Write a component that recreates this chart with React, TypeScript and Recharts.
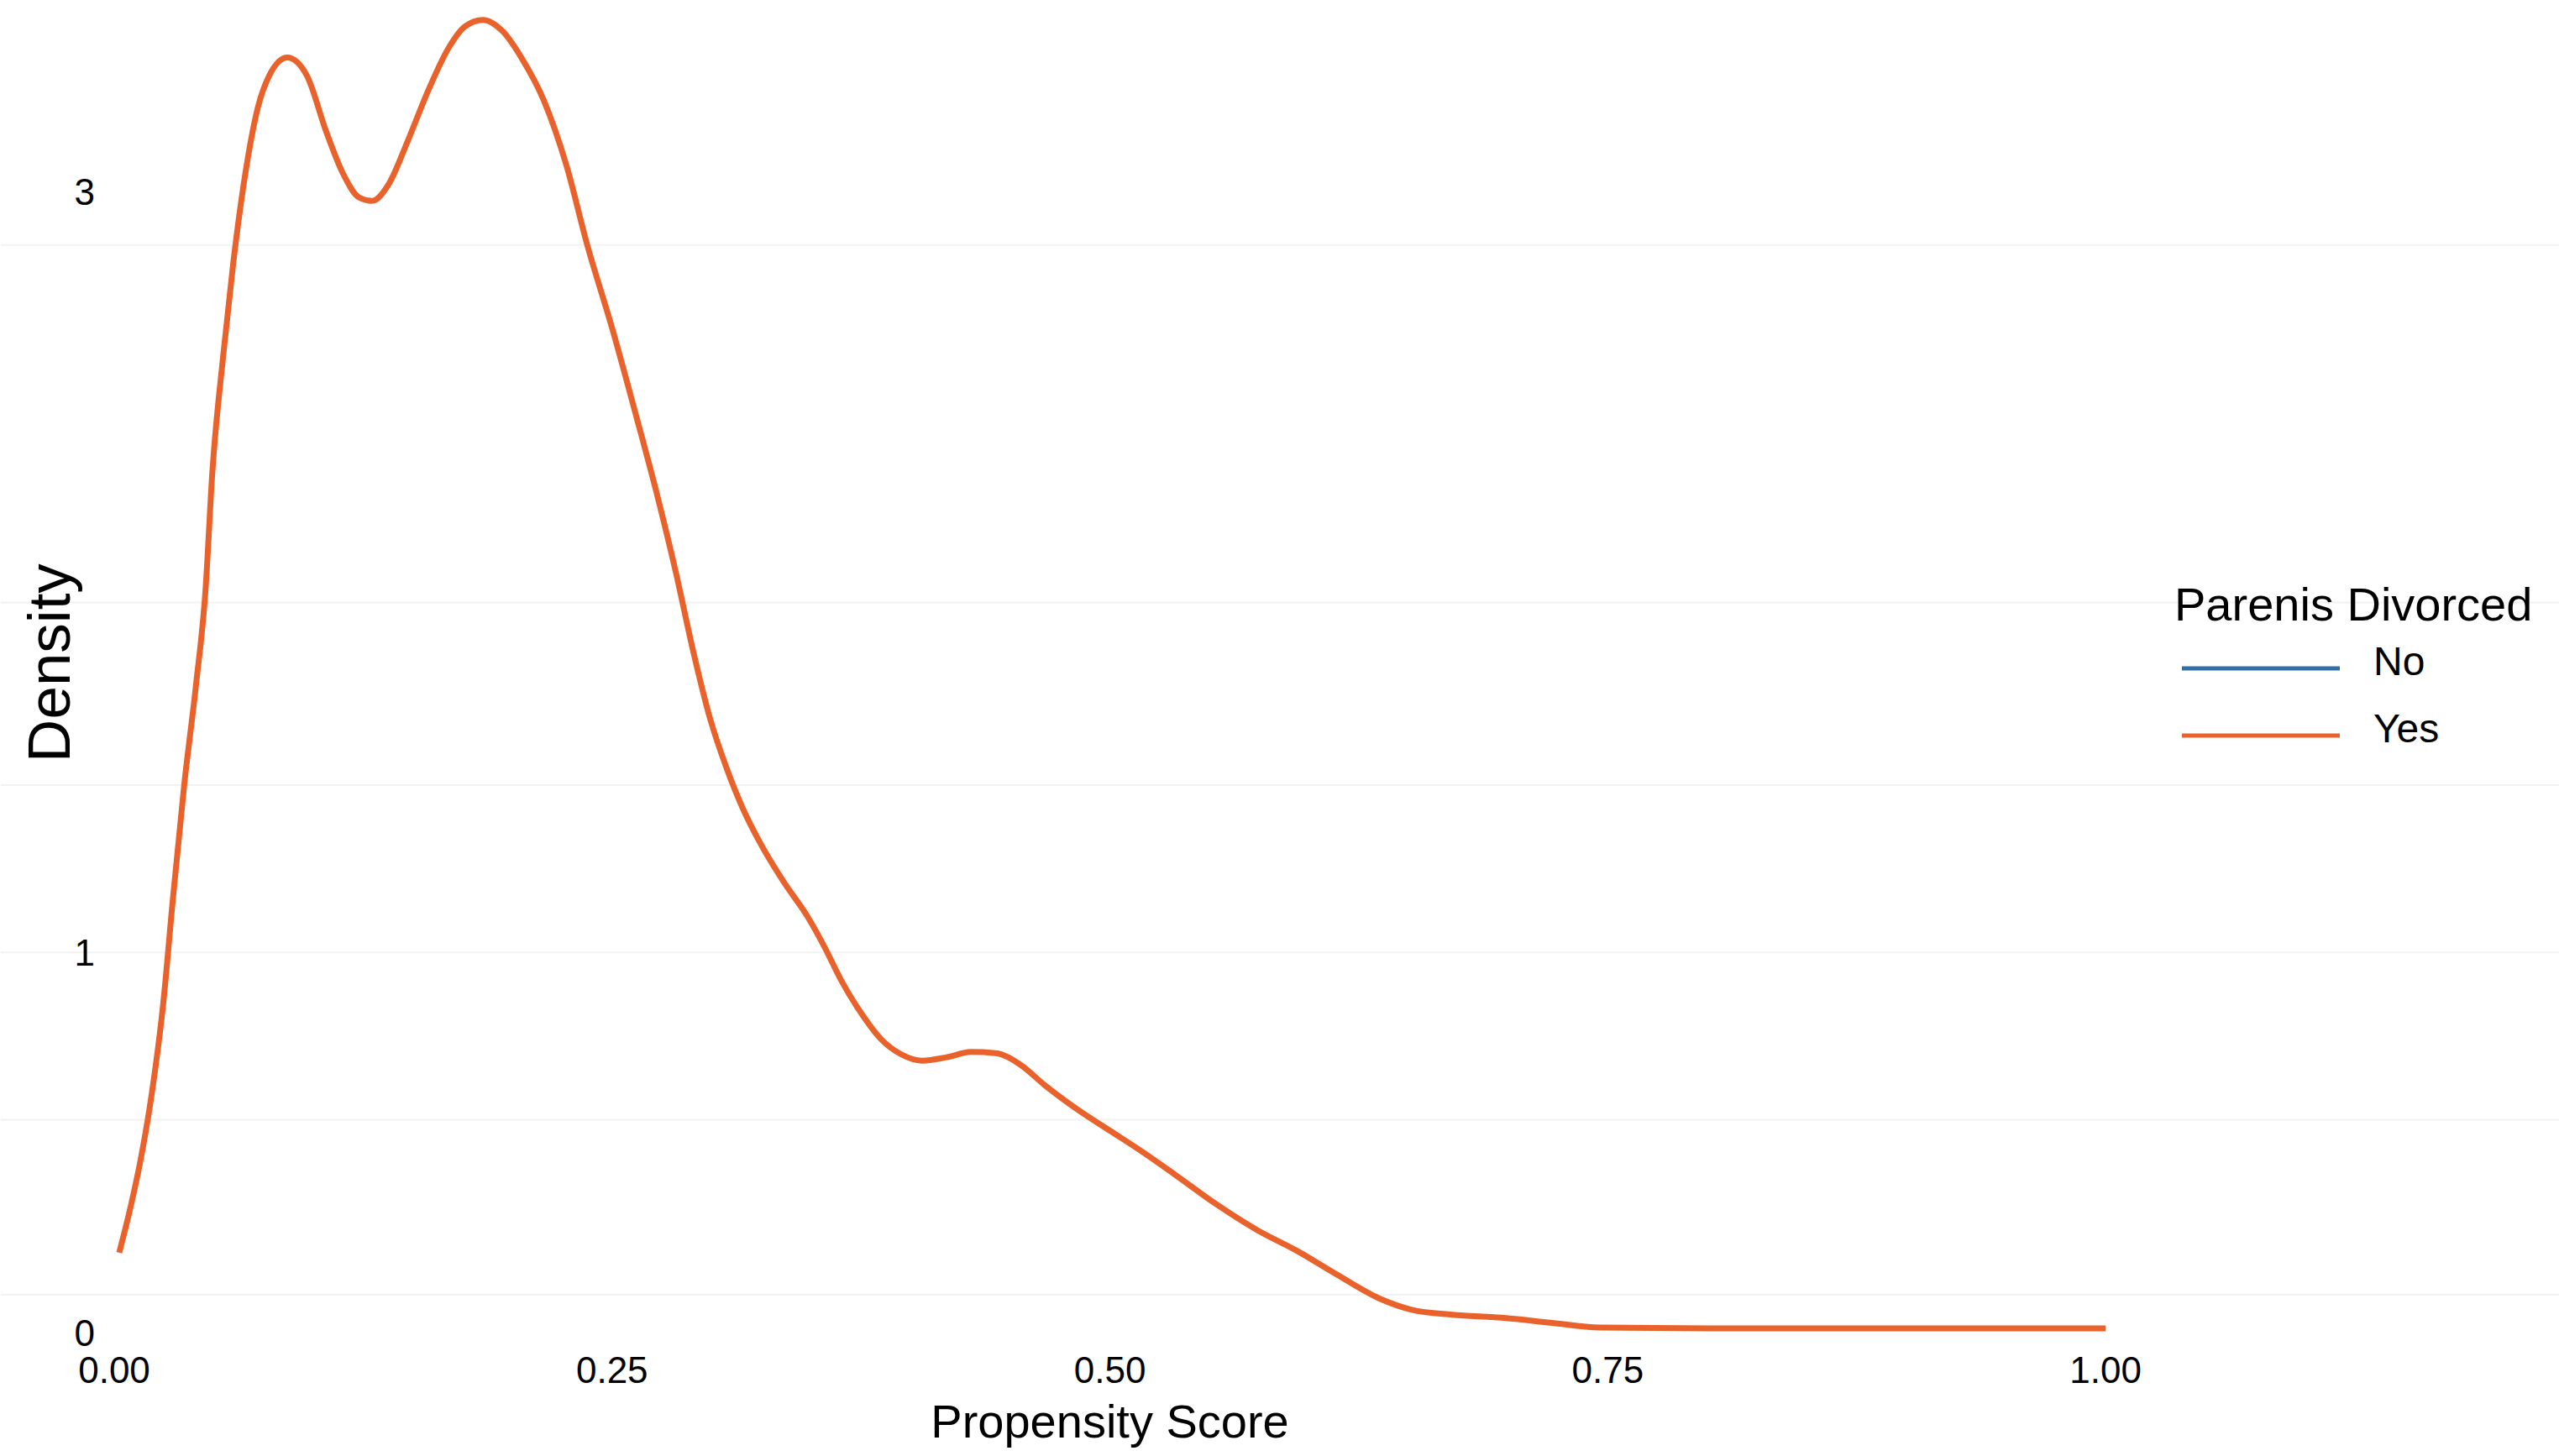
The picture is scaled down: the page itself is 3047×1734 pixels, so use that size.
import React from 'react';
import { LineChart, Line, XAxis, YAxis, CartesianGrid, Label } from 'recharts';

const W = 3047;
const H = 1734;
const X_MIN = -0.05694;
const X_MAX = 1.2277;
const FONT = '"Liberation Sans", Arial, sans-serif';

const xTicks = [0, 0.25, 0.5, 0.75, 1];
const yTicks = [0, 1, 3];
const gridValues = [0.1, 0.56, 1.0, 1.44, 1.92, 2.86];

const seriesNames = ['No', 'Yes'];
const seriesColors = ['#2F6EA6', '#E9622B'];

// propensity score (x) and density for the "Yes" group
const score = [
  0.0025, 0.0082, 0.0131, 0.0189, 0.0246, 0.0295, 0.0352, 0.041, 0.0459, 0.0492,
  0.0549, 0.0598, 0.0672, 0.0721, 0.0779, 0.0869, 0.0967, 0.1066, 0.1148, 0.123,
  0.1295, 0.1377, 0.1475, 0.1574, 0.168, 0.1762, 0.1852, 0.1951, 0.2049, 0.2156,
  0.227, 0.2377, 0.25, 0.2623, 0.2721, 0.282, 0.291, 0.2992, 0.3074, 0.3156,
  0.3238, 0.3361, 0.3484, 0.3566, 0.3648, 0.3746, 0.3852, 0.3951, 0.4057, 0.418,
  0.4303, 0.4426, 0.4549, 0.4672, 0.4836, 0.5, 0.5164, 0.5328, 0.5533, 0.5738,
  0.5943, 0.6148, 0.6352, 0.6516, 0.6721, 0.6967, 0.7213, 0.7459, 0.8033, 0.8852, 1.0,
];
const densityYes = [
  0.21, 0.33, 0.45, 0.63, 0.865, 1.143, 1.443, 1.7, 1.957, 2.257,
  2.578, 2.814, 3.092, 3.221, 3.306, 3.353, 3.306, 3.156, 3.049, 2.985,
  2.976, 3.019, 3.135, 3.263, 3.379, 3.435, 3.452, 3.422, 3.349, 3.242,
  3.071, 2.857, 2.642, 2.407, 2.214, 2.0, 1.786, 1.615, 1.486, 1.379,
  1.293, 1.186, 1.092, 1.015, 0.929, 0.844, 0.771, 0.732, 0.715, 0.724,
  0.738, 0.735, 0.705, 0.651, 0.587, 0.531, 0.475, 0.415, 0.338, 0.27,
  0.214, 0.15, 0.09, 0.06, 0.047, 0.039, 0.026, 0.013, 0.011, 0.011, 0.011,
];

const data = score.map((s, i) => ({ score: s, yes: densityYes[i] }));

const YTick = (props: any) => (
  <text x={113} y={props.y} dy="0.355em" textAnchor="end" fontSize={44} fontFamily={FONT} fill="#000">
    {props.payload.value}
  </text>
);

const XTitle = (props: any) => {
  const vb = props.viewBox;
  const cx = vb.x + ((0.5 - X_MIN) / (X_MAX - X_MIN)) * vb.width;
  return (
    <text x={cx} y={vb.y + vb.height - 22} textAnchor="middle" fontSize={56} fontFamily={FONT} fill="#000">
      Propensity Score
    </text>
  );
};

const YTitle = (props: any) => {
  const vb = props.viewBox;
  const cy = vb.y + vb.height / 2 - 5;
  return (
    <text x={83} y={cy} transform={`rotate(-90, 83, ${cy})`} textAnchor="middle" fontSize={71} fontFamily={FONT} fill="#000">
      Density
    </text>
  );
};

export default function App() {
  return (
    <div style={{ position: 'absolute', left: 0, top: 0, width: W, height: H, background: '#fff' }}>
      <LineChart width={W} height={H} data={data} margin={{ top: 2, right: 0, bottom: 0, left: 0 }}>
        <CartesianGrid vertical={false} horizontalValues={gridValues} stroke="#f2f2f2" strokeWidth={2} />
        <XAxis
          dataKey="score"
          type="number"
          domain={[X_MIN, X_MAX]}
          ticks={xTicks}
          tickFormatter={(v: number) => v.toFixed(2)}
          axisLine={false}
          tickLine={false}
          tickSize={0}
          tickMargin={29}
          height={147}
          tick={{ fontSize: 44, fontFamily: FONT, fill: '#000' }}
          label={<Label content={XTitle} />}
        />
        <YAxis
          type="number"
          domain={[0, 3.5]}
          ticks={yTicks}
          width={1}
          axisLine={false}
          tickLine={false}
          tick={YTick}
          label={<Label content={YTitle} />}
        />
        <Line
          type="monotone"
          dataKey="yes"
          name="Yes"
          stroke={seriesColors[1]}
          strokeWidth={7}
          dot={false}
          isAnimationActive={false}
        />
      </LineChart>
      <svg width={W} height={H} style={{ position: 'absolute', left: 0, top: 0, pointerEvents: 'none' }}>
        <text x={2589} y={739} fontSize={56} fontFamily={FONT} fill="#000">Parenis Divorced</text>
        {seriesNames.map((name, i) => (
          <g key={name}>
            <line x1={2598} x2={2786} y1={796 + i * 80} y2={796 + i * 80} stroke={seriesColors[i]} strokeWidth={5} />
            <text x={2826} y={804 + i * 80} fontSize={48} fontFamily={FONT} fill="#000">{name}</text>
          </g>
        ))}
      </svg>
    </div>
  );
}
